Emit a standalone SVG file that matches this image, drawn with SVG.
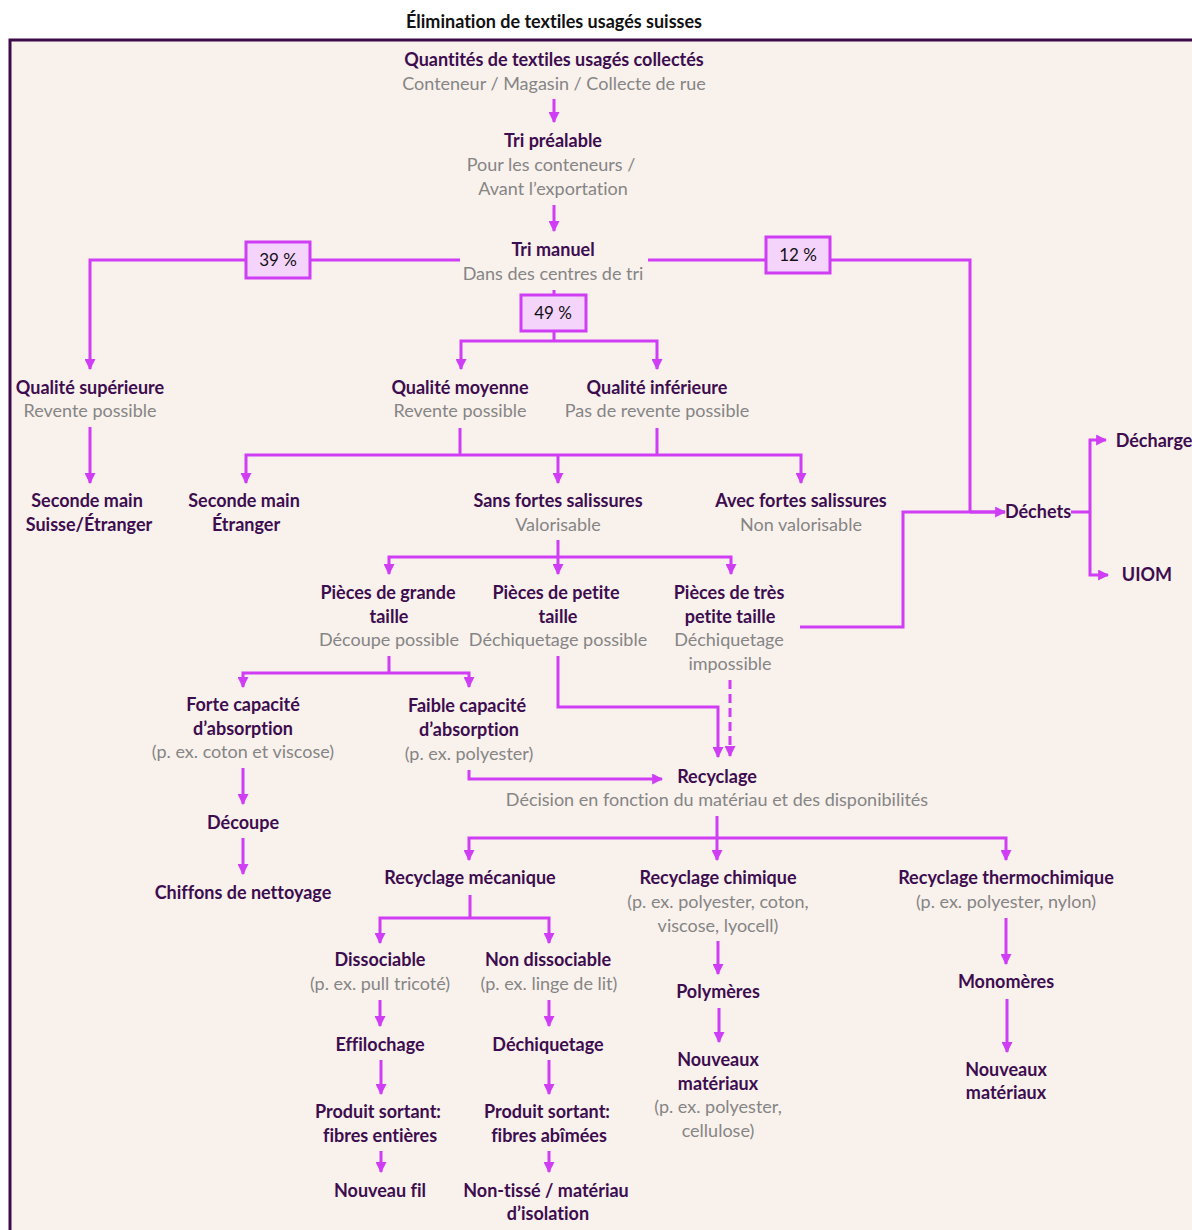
<svg xmlns="http://www.w3.org/2000/svg" width="1192" height="1230" viewBox="0 0 1192 1230">
<defs>
<marker id="ah" viewBox="0 0 10 10" refX="9" refY="5" markerWidth="11" markerHeight="11" markerUnits="userSpaceOnUse" orient="auto">
<path d="M0,0 L10,5 L0,10 z" fill="#cf3df5"/>
</marker>
</defs>
<style>
text{font-family:Lato,"Open Sans","Noto Sans",sans-serif;font-size:18px;text-anchor:middle;font-variant-ligatures:none}
.b{font-weight:bold;fill:#3d0d4f}
.g{fill:#858585}
.t{font-weight:bold;fill:#111;font-size:18px}
.p{fill:#111;font-size:17px}
.c{fill:none;stroke:#cf3df5;stroke-width:3}
.a{marker-end:url(#ah)}
.box{fill:#f4d4fb;stroke:#cf3df5;stroke-width:3}
</style>
<rect width="1192" height="1230" fill="#ffffff"/>
<text class="t" x="554" y="28">Élimination de textiles usagés suisses</text>
<rect x="10" y="40" width="1190" height="1200" fill="#f9f1ec" stroke="#3d0a4a" stroke-width="3"/>

<g id="connectors">
<path class="c a" d="M554,99 V122"/>
<path class="c a" d="M554,205 V231"/>
<path class="c a" d="M460,260 H90 V369"/>
<path class="c" d="M648,260 H970 V512"/>
<path class="c" d="M554,290 V341"/>
<path class="c a" d="M554,341 H461 V369"/>
<path class="c a" d="M554,341 H657 V369"/>
<path class="c a" d="M90,427 V483"/>
<path class="c" d="M460,428 V455"/>
<path class="c" d="M657,428 V455"/>
<path class="c a" d="M558,455 H246 V483"/>
<path class="c a" d="M558,455 V483"/>
<path class="c a" d="M558,455 H801 V483"/>
<path class="c a" d="M800,627 H903 V512 H1005"/>
<path class="c" d="M970,512 H1005"/>
<path class="c" d="M1071,512 H1090"/>
<path class="c a" d="M1090,512 V440 H1106"/>
<path class="c a" d="M1090,512 V575 H1108"/>
<path class="c" d="M558,540 V557"/>
<path class="c a" d="M558,557 H389 V574"/>
<path class="c a" d="M558,557 V574"/>
<path class="c a" d="M558,557 H731 V574"/>
<path class="c" d="M389,656 V673"/>
<path class="c a" d="M389,673 H243 V687"/>
<path class="c a" d="M389,673 H469 V687"/>
<path class="c a" d="M558,656 V707 H718 V757"/>
<path class="c a" d="M730,680 V756" stroke-dasharray="9,5"/>
<path class="c a" d="M469,770 V779 H662"/>
<path class="c a" d="M243,768 V804"/>
<path class="c a" d="M243,838 V874"/>
<path class="c" d="M717,816 V838"/>
<path class="c a" d="M717,838 H469 V860"/>
<path class="c a" d="M717,838 V860"/>
<path class="c a" d="M717,838 H1006 V860"/>
<path class="c" d="M470,895 V918"/>
<path class="c a" d="M470,918 H380 V943"/>
<path class="c a" d="M470,918 H549 V943"/>
<path class="c a" d="M380,1000 V1026"/>
<path class="c a" d="M549,1000 V1026"/>
<path class="c a" d="M381,1060 V1094"/>
<path class="c a" d="M549,1060 V1094"/>
<path class="c a" d="M381,1151 V1172"/>
<path class="c a" d="M549,1151 V1172"/>
<path class="c a" d="M718,941 V974"/>
<path class="c a" d="M719,1008 V1042"/>
<path class="c a" d="M1006,918 V964"/>
<path class="c a" d="M1007,999 V1052"/>
</g>

<g id="pct39"><rect class="box" x="246" y="242" width="64" height="36"/><text class="p" x="278" y="266">39 %</text></g>
<g id="pct12"><rect class="box" x="766" y="237" width="64" height="36"/><text class="p" x="798" y="261">12 %</text></g>
<g id="pct49"><rect class="box" x="521" y="295" width="65" height="36"/><text class="p" x="553" y="319">49 %</text></g>

<g id="n-collectes"><text class="b" x="554" y="66">Quantités de textiles usagés collectés</text><text class="g" x="554" y="90">Conteneur / Magasin / Collecte de rue</text></g>
<g id="n-tri-prealable"><text class="b" x="553" y="147">Tri préalable</text><text class="g" x="551" y="171">Pour les conteneurs /</text><text class="g" x="553" y="195">Avant l’exportation</text></g>
<g id="n-tri-manuel"><text class="b" x="553" y="256">Tri manuel</text><text class="g" x="553" y="280">Dans des centres de tri</text></g>
<g id="n-sup"><text class="b" x="90" y="394">Qualité supérieure</text><text class="g" x="90" y="417">Revente possible</text></g>
<g id="n-moy"><text class="b" x="460" y="394">Qualité moyenne</text><text class="g" x="460" y="417">Revente possible</text></g>
<g id="n-inf"><text class="b" x="657" y="394">Qualité inférieure</text><text class="g" x="657" y="417">Pas de revente possible</text></g>
<g id="n-sm1"><text class="b" x="87" y="507">Seconde main</text><text class="b" x="89" y="531">Suisse/Étranger</text></g>
<g id="n-sm2"><text class="b" x="244" y="507">Seconde main</text><text class="b" x="246" y="531">Étranger</text></g>
<g id="n-sans"><text class="b" x="558" y="507">Sans fortes salissures</text><text class="g" x="558" y="531">Valorisable</text></g>
<g id="n-avec"><text class="b" x="801" y="507">Avec fortes salissures</text><text class="g" x="801" y="531">Non valorisable</text></g>
<g id="n-dechets"><text class="b" x="1038" y="518">Déchets</text></g>
<g id="n-decharge"><text class="b" x="1154" y="447">Décharge</text></g>
<g id="n-uiom"><text class="b" x="1147" y="581">UIOM</text></g>
<g id="n-grande"><text class="b" x="388" y="599">Pièces de grande</text><text class="b" x="389" y="623">taille</text><text class="g" x="389" y="646">Découpe possible</text></g>
<g id="n-petite"><text class="b" x="556" y="599">Pièces de petite</text><text class="b" x="558" y="623">taille</text><text class="g" x="558" y="646">Déchiquetage possible</text></g>
<g id="n-trespetite"><text class="b" x="729" y="599">Pièces de très</text><text class="b" x="730" y="623">petite taille</text><text class="g" x="729" y="646">Déchiquetage</text><text class="g" x="730" y="670">impossible</text></g>
<g id="n-forte"><text class="b" x="243" y="711">Forte capacité</text><text class="b" x="243" y="735">d’absorption</text><text class="g" x="243" y="758">(p. ex. coton et viscose)</text></g>
<g id="n-faible"><text class="b" x="467" y="712">Faible capacité</text><text class="b" x="469" y="736">d’absorption</text><text class="g" x="469" y="760">(p. ex. polyester)</text></g>
<g id="n-decoupe"><text class="b" x="243" y="829">Découpe</text></g>
<g id="n-chiffons"><text class="b" x="243" y="899">Chiffons de nettoyage</text></g>
<g id="n-recyclage"><text class="b" x="717" y="783">Recyclage</text><text class="g" x="717" y="806">Décision en fonction du matériau et des disponibilités</text></g>
<g id="n-meca"><text class="b" x="470" y="884">Recyclage mécanique</text></g>
<g id="n-chim"><text class="b" x="718" y="884">Recyclage chimique</text><text class="g" x="718" y="908">(p. ex. polyester, coton,</text><text class="g" x="718" y="932">viscose, lyocell)</text></g>
<g id="n-thermo"><text class="b" x="1006" y="884">Recyclage thermochimique</text><text class="g" x="1006" y="908">(p. ex. polyester, nylon)</text></g>
<g id="n-dissoc"><text class="b" x="380" y="966">Dissociable</text><text class="g" x="380" y="990">(p. ex. pull tricoté)</text></g>
<g id="n-nondissoc"><text class="b" x="548" y="966">Non dissociable</text><text class="g" x="549" y="990">(p. ex. linge de lit)</text></g>
<g id="n-effil"><text class="b" x="380" y="1051">Effilochage</text></g>
<g id="n-dechiq"><text class="b" x="548" y="1051">Déchiquetage</text></g>
<g id="n-prod1"><text class="b" x="378" y="1118">Produit sortant:</text><text class="b" x="380" y="1142">fibres entières</text></g>
<g id="n-prod2"><text class="b" x="547" y="1118">Produit sortant:</text><text class="b" x="549" y="1142">fibres abîmées</text></g>
<g id="n-fil"><text class="b" x="380" y="1197">Nouveau fil</text></g>
<g id="n-nontisse"><text class="b" x="546" y="1197">Non-tissé / matériau</text><text class="b" x="548" y="1220">d’isolation</text></g>
<g id="n-polym"><text class="b" x="718" y="998">Polymères</text></g>
<g id="n-nouv1"><text class="b" x="718" y="1066">Nouveaux</text><text class="b" x="718" y="1090">matériaux</text><text class="g" x="718" y="1113">(p. ex. polyester,</text><text class="g" x="718" y="1137">cellulose)</text></g>
<g id="n-monom"><text class="b" x="1006" y="988">Monomères</text></g>
<g id="n-nouv2"><text class="b" x="1006" y="1076">Nouveaux</text><text class="b" x="1006" y="1099">matériaux</text></g>
</svg>
